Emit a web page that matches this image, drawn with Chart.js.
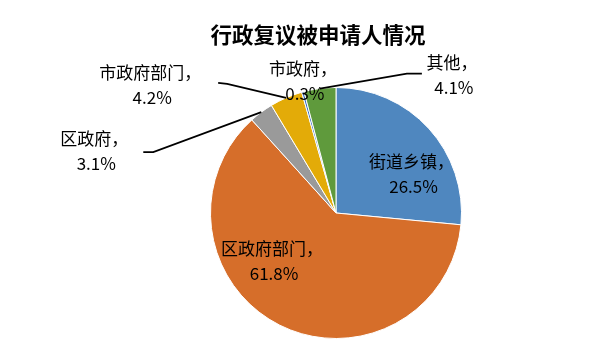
<!DOCTYPE html>
<html>
<head>
<meta charset="utf-8">
<script src="https://cdn.jsdelivr.net/npm/chart.js@4"></script>
<style>
html,body{margin:0;padding:0;background:#fff;}
#wrap{width:599px;height:364px;position:relative;}
</style>
</head>
<body>
<div id="wrap"><canvas id="c" width="599" height="364"></canvas></div>
<script>
// ---- data ----
const titleText = '行政复议被申请人情况';
const categories = ['街道乡镇', '区政府部门', '区政府', '市政府部门', '市政府', '其他'];
const percents = [26.5, 61.8, 3.1, 4.2, 0.3, 4.1];
const colors = ['#4F87BF', '#D66E2A', '#9A9A9A', '#E3AB08', '#3B6FC0', '#5F9A3C'];

// label placement (styles / positions, relative to each slice's geometry)
const labelPlacement = [
  {inside: true, frac: 0.62, dx: 20, dy: 13},
  {inside: true, frac: 0.55, dx: -31, dy: -14},
  {inside: false, lx: -165, ly: 39, elbow: [-108, 40], end: [-118, 40]},
  {inside: false, lx: -134, ly: -13, elbow: [-59, -14], end: [-68, -15]},
  {inside: false, lx: 2, ly: -11, elbow: null},
  {inside: false, lx: 134, ly: -13, elbow: [87, -15], end: [102, -15]}
];

const FONT = '17px "Noto Sans CJK SC", "Noto Sans", sans-serif';
const LINE_GAP = 25;

const labelPlugin = {
  id: 'pieLabels',
  afterDatasetsDraw(chart) {
    const ctx = chart.ctx;
    const meta = chart.getDatasetMeta(0);
    ctx.save();
    // title
    ctx.font = 'bold 21.5px "Noto Sans CJK SC", sans-serif';
    ctx.fillStyle = '#000';
    ctx.textAlign = 'center';
    ctx.textBaseline = 'middle';
    ctx.fillText(titleText, 318, 35);

    meta.data.forEach((arc, i) => {
      const p = arc.getProps(['x', 'y', 'startAngle', 'endAngle', 'outerRadius'], true);
      const mid = (p.startAngle + p.endAngle) / 2;
      const cos = Math.cos(mid), sin = Math.sin(mid);
      const pl = labelPlacement[i];
      let cx, cy;
      if (pl.inside) {
        cx = p.x + cos * p.outerRadius * pl.frac + pl.dx;
        cy = p.y + sin * p.outerRadius * pl.frac + pl.dy;
      } else {
        const ex = p.x + cos * p.outerRadius;
        const ey = p.y + sin * p.outerRadius;
        cx = ex + pl.lx;
        cy = ey + pl.ly;
        if (pl.elbow) {
          ctx.beginPath();
          ctx.strokeStyle = '#000';
          ctx.lineWidth = 1.7;
          ctx.moveTo(ex, ey);
          ctx.lineTo(ex + pl.elbow[0], ey + pl.elbow[1]);
          ctx.lineTo(ex + pl.end[0], ey + pl.end[1]);
          ctx.stroke();
        }
      }
      ctx.font = FONT;
      ctx.fillStyle = '#000';
      ctx.textAlign = 'center';
      ctx.textBaseline = 'middle';
      ctx.fillText(categories[i] + '，', cx - 2, cy - LINE_GAP / 2);
      ctx.fillText(percents[i].toFixed(1) + '%', cx, cy + LINE_GAP / 2);
    });
    ctx.restore();
  }
};

new Chart(document.getElementById('c'), {
  type: 'pie',
  data: {
    labels: categories,
    datasets: [{
      data: percents,
      backgroundColor: colors,
      borderColor: '#ffffff',
      borderWidth: 1
    }]
  },
  options: {
    responsive: false,
    animation: false,
    layout: {padding: {left: 210, right: 137, top: 87, bottom: 25}},
    plugins: {
      legend: {display: false},
      title: {display: false},
      tooltip: {enabled: false}
    }
  },
  plugins: [labelPlugin]
});
</script>
</body>
</html>
